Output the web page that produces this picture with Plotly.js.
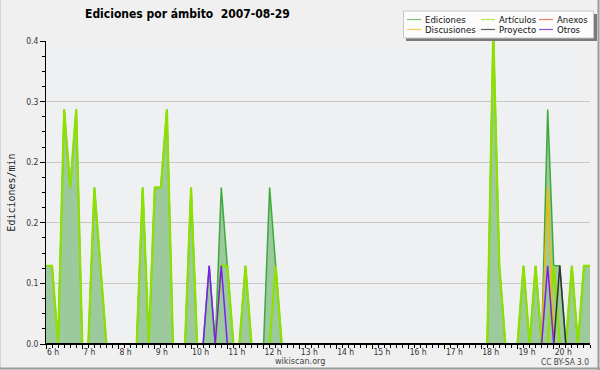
<!DOCTYPE html>
<html>
<head>
<meta charset="utf-8">
<script src="https://cdn.plot.ly/plotly-3.0.1.min.js"></script>
<style>
html,body{margin:0;padding:0;background:#f0f0f0;}
#chart{width:600px;height:370px;}
</style>
</head>
<body>
<div id="chart"></div>
<script>
// 10-minute bins, 2007-08-29
const times = [
  "06:00","06:10","06:20","06:30","06:40","06:50",
  "07:00","07:10","07:20","07:30","07:40","07:50",
  "08:00","08:10","08:20","08:30","08:40","08:50",
  "09:00","09:10","09:20","09:30","09:40","09:50",
  "10:00","10:10","10:20","10:30","10:40","10:50",
  "11:00","11:10","11:20","11:30","11:40","11:50",
  "12:00","12:10","12:20","12:30","12:40","12:50",
  "13:00","13:10","13:20","13:30","13:40","13:50",
  "14:00","14:10","14:20","14:30","14:40","14:50",
  "15:00","15:10","15:20","15:30","15:40","15:50",
  "16:00","16:10","16:20","16:30","16:40","16:50",
  "17:00","17:10","17:20","17:30","17:40","17:50",
  "18:00","18:10","18:20","18:30","18:40","18:50",
  "19:00","19:10","19:20","19:30","19:40","19:50",
  "20:00","20:10","20:20","20:30","20:40","20:50",
  "21:00"
];

const ediciones = [
  0.1,0.1,0,0.3,0.2,0.3,
  0,0,0.2,0.1,0,0,
  0,0,0,0,0.2,0,
  0.2,0.2,0.3,0,0,0,
  0.2,0,0,0.1,0,0.2,
  0.1,0,0,0.1,0,0,
  0,0.2,0.1,0,0,0,
  0,0,0,0,0,0,
  0,0,0,0,0,0,
  0,0,0,0,0,0,
  0,0,0,0,0,0,
  0,0,0,0,0,0,
  0,0,0.4,0.1,0,0,
  0,0.1,0,0.1,0,0.3,
  0.1,0.1,0,0.1,0,0.1,
  0.1
];

const articulos = [
  0.1,0.1,0,0.3,0.2,0.3,
  0,0,0.2,0.1,0,0,
  0,0,0,0,0.2,0,
  0.2,0.2,0.3,0,0,0,
  0.2,0,0,0,0,0.1,
  0.1,0,0,0.1,0,0,
  0,0,0.1,0,0,0,
  0,0,0,0,0,0,
  0,0,0,0,0,0,
  0,0,0,0,0,0,
  0,0,0,0,0,0,
  0,0,0,0,0,0,
  0,0,0.4,0.1,0,0,
  0,0.1,0,0.1,0,0,
  0.1,0,0,0.1,0,0.1,
  0.1
];

const anexos = [
  0,0,0,0,0,0, 0,0,0,0,0,0, 0,0,0,0,0,0, 0,0,0,0,0,0,
  0,0,0,0,0,0, 0,0,0,0,0,0, 0,0,0,0,0,0, 0,0,0,0,0,0,
  0,0,0,0,0,0, 0,0,0,0,0,0, 0,0,0,0,0,0, 0,0,0,0,0,0,
  0,0,0,0,0,0, 0,0,0,0,0,0, 0,0,0,0,0,0,
  0
];

const discusiones = [
  0,0,0,0,0,0, 0,0,0,0,0,0, 0,0,0,0,0,0, 0,0,0,0,0,0,
  0,0,0,0,0,0, 0,0,0,0,0,0, 0,0,0,0,0,0, 0,0,0,0,0,0,
  0,0,0,0,0,0, 0,0,0,0,0,0, 0,0,0,0,0,0, 0,0,0,0,0,0,
  0,0,0,0,0,0, 0,0,0,0,0,0.2, 0,0,0,0,0,0,
  0
];

const proyecto = [
  0,0,0,0,0,0, 0,0,0,0,0,0, 0,0,0,0,0,0, 0,0,0,0,0,0,
  0,0,0,0,0,0, 0,0,0,0,0,0, 0,0,0,0,0,0, 0,0,0,0,0,0,
  0,0,0,0,0,0, 0,0,0,0,0,0, 0,0,0,0,0,0, 0,0,0,0,0,0,
  0,0,0,0,0,0, 0,0,0,0,0,0, 0,0.1,0,0,0,0,
  0
];

const otros = [
  0,0,0,0,0,0, 0,0,0,0,0,0, 0,0,0,0,0,0, 0,0,0,0,0,0,
  0,0,0,0.1,0,0.1, 0,0,0,0,0,0, 0,0,0,0,0,0, 0,0,0,0,0,0,
  0,0,0,0,0,0, 0,0,0,0,0,0, 0,0,0,0,0,0, 0,0,0,0,0,0,
  0,0,0,0,0,0, 0,0,0,0,0,0.1, 0,0,0,0,0,0,
  0
];

const seriesNames = ["Ediciones","Artículos","Anexos","Discusiones","Proyecto","Otros"];

const xTickVals = [6,7,8,9,10,11,12,13,14,15,16,17,18,19,20];
const xTickText = ["6 h","7 h","8 h","9 h","10 h","11 h","12 h","13 h","14 h","15 h","16 h","17 h","18 h","19 h","20 h"];
const yTickVals = [0,0.0775,0.155,0.2325,0.31,0.3875];
const yTickText = ["0.0","0.1","0.2","0.2","0.3","0.4"];

function toHours(t){ const p = t.split(":"); return Number(p[0]) + Number(p[1])/60; }
const x = times.map(toHours);

const FONT = "DejaVu Sans Condensed, DejaVu Sans, sans-serif";
const colors = {
  ediciones: "#3caa3c",
  edicionesFill: "rgb(156,202,157)",
  articulos: "#8ee000",
  anexos: "#f07050",
  discusiones: "#f4b800",
  proyecto: "#333333",
  otros: "#7a1ef0"
};
const legendColors = ["#7cc47c", "#b4ec4c", "#f08060", "#f4cc50", "#606060", "#9050e8"];

const M = {l:46, r:10, t:41, b:26};
const W = 600, H = 370;
const PW = W - M.l - M.r, PH = H - M.t - M.b;
const px = v => (v - M.l) / PW;
const py = v => (H - M.b - v) / PH;

const traces = [
  {x:x, y:ediciones, name:seriesNames[0], type:"scatter", mode:"lines", fill:"tozeroy",
   fillcolor:colors.edicionesFill, line:{color:colors.ediciones, width:1.5}},
  {x:x, y:articulos, name:seriesNames[1], type:"scatter", mode:"lines", line:{color:colors.articulos, width:2.2}},
  {x:x, y:anexos, name:seriesNames[2], type:"scatter", mode:"lines", line:{color:colors.anexos, width:1.2}},
  {x:x, y:discusiones, name:seriesNames[3], type:"scatter", mode:"lines", line:{color:colors.discusiones, width:1.5}},
  {x:x, y:proyecto, name:seriesNames[4], type:"scatter", mode:"lines", line:{color:colors.proyecto, width:1.5}},
  {x:x, y:otros, name:seriesNames[5], type:"scatter", mode:"lines", line:{color:colors.otros, width:1.5}}
].map(t => Object.assign(t, {showlegend:false, hoverinfo:"skip"}));

// custom legend (3 columns x 2 rows)
const legendCols = [407, 481, 539];
const legendRows = [19.5, 29.5];

const shapes = [];
const annotations = [];

// frame
shapes.push({type:"line", xref:"paper", yref:"paper", x0:px(0.5), x1:px(0.5), y0:py(0), y1:py(370), line:{color:"#d4d4d4", width:1}});
shapes.push({type:"line", xref:"paper", yref:"paper", x0:px(0), x1:px(600), y0:py(368.5), y1:py(368.5), line:{color:"#9a9a9a", width:2}});
shapes.push({type:"line", xref:"paper", yref:"paper", x0:px(598.5), x1:px(598.5), y0:py(0), y1:py(370), line:{color:"#9a9a9a", width:2}});

// baseline over zero-valued lines
shapes.push({type:"line", xref:"paper", yref:"y", x0:0, x1:1, y0:0, y1:0, layer:"above", line:{color:"#000", width:2}});

// legend shadow + box
shapes.push({type:"rect", xref:"paper", yref:"paper", x0:px(406), x1:px(597), y0:py(41), y1:py(14), fillcolor:"#7a7a7a", line:{width:0}});
shapes.push({type:"rect", xref:"paper", yref:"paper", x0:px(403.5), x1:px(593.5), y0:py(38), y1:py(11), fillcolor:"#fcfcfc", line:{color:"#c8c8c8", width:1}});

seriesNames.forEach((nm, i) => {
  const c = i % 3, r = Math.floor(i / 3);
  const x0 = legendCols[c];
  const yy = legendRows[r];
  shapes.push({type:"line", xref:"paper", yref:"paper", x0:px(x0), x1:px(x0 + 14), y0:py(yy), y1:py(yy),
    line:{color:legendColors[i], width:1.2}});
  annotations.push({xref:"paper", yref:"paper", x:px(x0 + 17), y:py(yy), xanchor:"left", yanchor:"middle",
    text:nm, showarrow:false, font:{family:FONT, size:9.5, color:"#111"}, borderpad:0});
});

annotations.push({xref:"paper", yref:"paper", x:px(300), y:py(361), xanchor:"center", yanchor:"middle",
  text:"wikiscan.org", showarrow:false, font:{family:FONT, size:9, color:"#444"}});
annotations.push({xref:"paper", yref:"paper", x:px(591), y:py(361.5), xanchor:"right", yanchor:"middle",
  text:"CC BY-SA 3.0", showarrow:false, font:{family:FONT, size:8.3, color:"#444"}});

const layout = {
  width:W, height:H,
  margin:{l:M.l, r:M.r, t:M.t, b:M.b, pad:0, autoexpand:false},
  paper_bgcolor:"#f0f0f0",
  plot_bgcolor:"#eef0f2",
  showlegend:false,
  title:{text:"Ediciones por ámbito\u00a0 2007-08-29", xref:"container", yref:"container",
         x:85/600, xanchor:"left", y:1 - 14/370, yanchor:"middle",
         font:{family:FONT, size:12, weight:"bold", color:"#000"}},
  xaxis:{range:[6,21], tickmode:"array", tickvals:xTickVals, ticktext:xTickText,
         ticks:"outside", ticklen:4, tickwidth:1, tickcolor:"#000",
         showline:true, linecolor:"#000", linewidth:1, showgrid:false, zeroline:false,
         ticklabelposition:"outside right", layer:"above traces",
         tickfont:{family:FONT, size:8.5, color:"#333"},
         minor:{tickmode:"linear", tick0:6, dtick:1/6, ticks:"outside", ticklen:3, tickcolor:"#000", showgrid:false},
         fixedrange:true},
  yaxis:{range:[0,0.3875], tickmode:"array", tickvals:yTickVals, ticktext:yTickText,
         ticks:"outside", ticklen:5, tickwidth:1, tickcolor:"#000",
         showline:true, linecolor:"#000", linewidth:1, showgrid:true, gridcolor:"#c8c8c8", gridwidth:1,
         zeroline:false, layer:"above traces",
         tickfont:{family:FONT, size:8.5, color:"#333"},
         minor:{tickmode:"linear", tick0:0, dtick:0.019375, ticks:"outside", ticklen:3, tickcolor:"#000", showgrid:false},
         title:{text:"Ediciones/min", standoff:8, font:{family:"DejaVu Sans Mono, monospace", size:10, color:"#222"}},
         fixedrange:true},
  shapes:shapes,
  annotations:annotations
};

Plotly.newPlot("chart", traces, layout, {staticPlot:true, displayModeBar:false});
</script>
</body>
</html>
